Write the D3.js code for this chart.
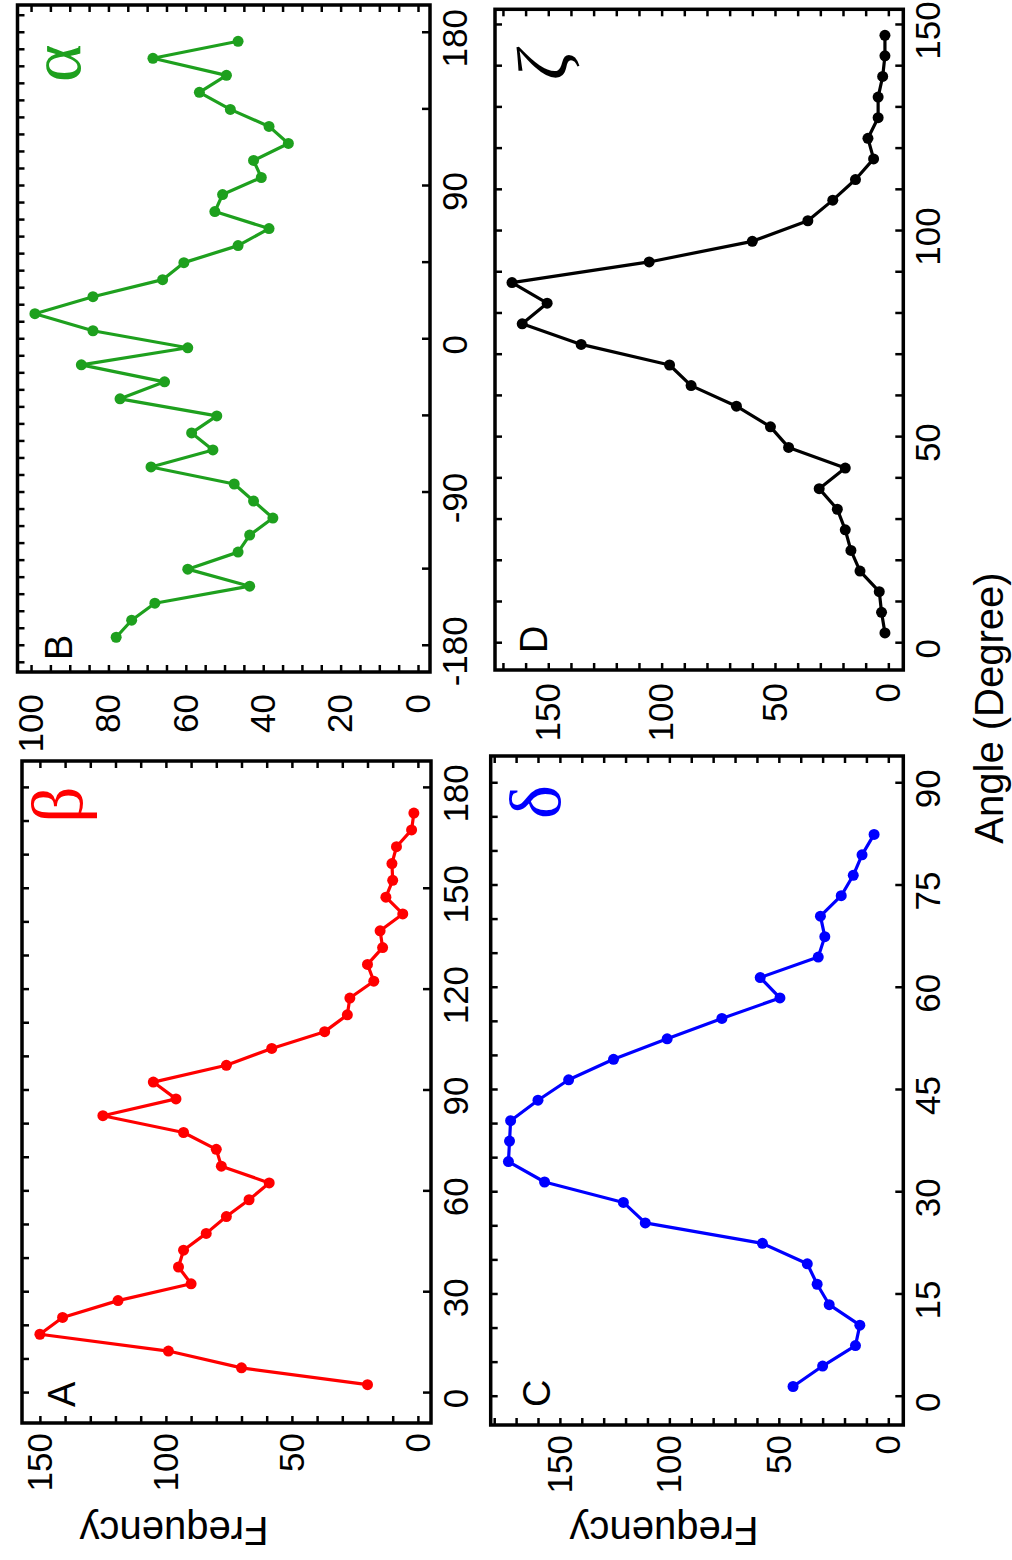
<!DOCTYPE html>
<html>
<head>
<meta charset="utf-8">
<script src="https://cdn.jsdelivr.net/npm/d3@7"></script>
<style>
  body { margin: 0; background: #fff; }
  svg { display: block; }
</style>
</head>
<body>
<div id="graph"></div>
<script>
// bin centres (degrees) and counts
const betaAngle = [2.5, 7.5, 12.5, 17.5, 22.5, 27.5, 32.5, 37.5, 42.5, 47.5, 52.5, 57.5, 62.5, 67.5, 72.5,
  77.5, 82.5, 87.5, 92.5, 97.5, 102.5, 107.5, 112.5, 117.5, 122.5, 127.5, 132.5, 137.5, 142.5, 147.5,
  152.5, 157.5, 162.5, 167.5, 172.5];
const betaFreq = [20, 70, 99, 150, 141, 119, 90, 95, 93, 84, 76, 67, 59, 78, 80,
  93, 125, 96, 105, 76, 58, 37, 28, 27, 17.5, 20, 14, 15, 6, 12.7,
  10, 10.3, 8.5, 2.5, 1.6];

const alphaAngle = [-175, -165, -155, -145, -135, -125, -115, -105, -95, -85, -75, -65, -55, -45, -35, -25, -15, -5,
  5, 15, 25, 35, 45, 55, 65, 75, 85, 95, 105, 115, 125, 135, 145, 155, 165, 175];
const alphaFreq = [78, 74, 68, 43.5, 59.5, 46.5, 43.5, 37.5, 42.5, 47.5, 69, 53, 58.5, 52, 77, 65.5, 87, 59.5,
  84, 99, 84, 66, 60.5, 46.5, 38.5, 52.5, 50.5, 40.5, 42.5, 33.5, 38.5, 48.5, 56.5, 49.5, 68.5, 46.5];

const deltaAngle = [1.5, 4.5, 7.5, 10.5, 13.5, 16.5, 19.5, 22.5, 25.5, 28.5, 31.5, 34.5, 37.5, 40.5,
  43.5, 46.5, 49.5, 52.5, 55.5, 58.5, 61.5, 64.5, 67.5, 70.5, 73.5, 76.5, 79.5, 82.5];
const deltaFreq = [43.5, 30, 15, 13, 27, 32.5, 37, 57.5, 111, 121, 157, 173.5, 173, 172.5,
  160, 146, 125.5, 101, 76, 49.5, 58.5, 32, 29, 31, 21.5, 16, 12, 6.5];

const zetaAngle = [2.5, 7.5, 12.5, 17.5, 22.5, 27.5, 32.5, 37.5, 42.5, 47.5, 52.5, 57.5, 62.5, 67.5, 72.5,
  77.5, 82.5, 87.5, 92.5, 97.5, 102.5, 107.5, 112.5, 117.5, 122.5, 127.5, 132.5, 137.5, 142.5, 147.5];
const zetaFreq = [1.5, 3, 4, 12.5, 16.5, 19, 22.5, 30.5, 19, 44, 52, 67, 87, 96.5, 135.5,
  161.5, 150.5, 166, 105.5, 60, 35.5, 24.5, 14.5, 6.5, 9, 4.5, 4.5, 2.5, 1.5, 1.5];

// tick labels
const betaXTicks = [0, 30, 60, 90, 120, 150, 180];
const betaYTicks = [0, 50, 100, 150];
const alphaXTicks = [-180, -90, 0, 90, 180];
const alphaYTicks = [0, 20, 40, 60, 80, 100];
const deltaXTicks = [0, 15, 30, 45, 60, 75, 90];
const deltaYTicks = [0, 50, 100, 150];
const zetaXTicks = [0, 50, 100, 150];
const zetaYTicks = [0, 50, 100, 150];

const panelLetters = ['A', 'B', 'C', 'D'];
const greekNames = ['\u03B2', '\u03B1', '\u03B4', '\u03B6'];
const xLabel = 'Angle (Degree)';
const yLabel = 'Frequency';

// the figure is drawn upright (1560 wide x 1012 tall) and turned a quarter turn left
let W = 1560, H = 1012;

let svg = d3.select('#graph').append('svg')
    .attr('width', 1012)
    .attr('height', 1560);
svg.append('rect').attr('width', 1012).attr('height', 1560).attr('fill', '#fff');

let root = svg.append('g')
    .attr('transform', 'translate(0,' + W + ') rotate(-90)');

let sans = '"Liberation Sans", Arial, Helvetica, sans-serif';
let serif = '"Liberation Serif", "DejaVu Serif", "Times New Roman", serif';

let panels = [
  {angle: betaAngle, freq: betaFreq, color: '#ff0000',
   xDomain: [-8.9, 188], xRange: [137, 799], yDomain: [-5.2, 157.1], yRange: [431, 22],
   xLabels: betaXTicks, xBottom: [0, 180, 30], xTop: [0, 180, 10],
   yLabels: betaYTicks, yMinor: [0, 150, 10], yPad: 10,
   letter: panelLetters[0], letterPos: [153, 75], greek: greekNames[0], greekPos: [737, 82], italic: false},
  {angle: alphaAngle, freq: alphaFreq, color: '#1ea01e',
   xDomain: [-195.4, 196.3], xRange: [888, 1555], yDomain: [-3.1, 103.5], yRange: [430, 17.5],
   xLabels: alphaXTicks, xBottom: [-180, 180, 45], xTop: [-190, 190, 10],
   yLabels: alphaYTicks, yMinor: [0, 100, 5], yPad: 22,
   letter: panelLetters[1], letterPos: [900, 72], greek: greekNames[1], greekPos: [1478, 80], italic: false},
  {angle: deltaAngle, freq: deltaFreq, color: '#0000ff',
   xDomain: [-4.15, 94.0], xRange: [135, 804], yDomain: [-6.85, 181.6], yRange: [903.3, 490.7],
   xLabels: deltaXTicks, xBottom: [0, 90, 15], xTop: [0, 90, 5],
   yLabels: deltaYTicks, yMinor: [0, 180, 10], yPad: 10,
   letter: panelLetters[2], letterPos: [153, 550], greek: greekNames[2], greekPos: [741, 560], italic: false},
  {angle: zetaAngle, freq: zetaFreq, color: '#000000',
   xDomain: [-6.5, 153.8], xRange: [890, 1550.7], yDomain: [-6.6, 173.5], yRange: [903.3, 495],
   xLabels: zetaXTicks, xBottom: [0, 150, 10], xTop: [0, 150, 10],
   yLabels: zetaYTicks, yMinor: [0, 170, 10], yPad: 13,
   letter: panelLetters[3], letterPos: [907, 547], greek: greekNames[3], greekPos: [1480, 567], italic: true}
];

function steps(r) {
  return d3.range(r[0], r[1] + r[2] / 2, r[2]);
}

function styleAxis(g) {
  g.select('.domain').remove();
  g.selectAll('line').attr('stroke', '#000').attr('stroke-width', 2.5);
  g.selectAll('text')
      .attr('font-family', sans)
      .attr('font-size', 35)
      .attr('fill', '#000');
}

panels.forEach(function(p) {
  let x = d3.scaleLinear().domain(p.xDomain).range(p.xRange);
  let y = d3.scaleLinear().domain(p.yDomain).range(p.yRange);
  let left = p.xRange[0], right = p.xRange[1];
  let top = p.yRange[1], bottom = p.yRange[0];

  let g = root.append('g');

  // bottom axis: tick marks, then labels
  g.append('g')
      .attr('transform', 'translate(0,' + bottom + ')')
      .call(d3.axisBottom(x).tickValues(steps(p.xBottom)).tickSize(-8).tickFormat(''))
      .call(styleAxis);
  g.append('g')
      .attr('transform', 'translate(0,' + bottom + ')')
      .call(d3.axisBottom(x).tickValues(p.xLabels).tickSize(0).tickPadding(12)
        .tickFormat(function(d) { return d < 0 ? '-' + Math.abs(d) : d; }))
      .call(styleAxis)
      .selectAll('text').attr('dx', -6);

  // top axis: minor ticks only
  g.append('g')
      .attr('transform', 'translate(0,' + top + ')')
      .call(d3.axisTop(x).tickValues(steps(p.xTop)).tickSize(-7).tickFormat(''))
      .call(styleAxis);

  // left axis
  g.append('g')
      .attr('transform', 'translate(' + left + ',0)')
      .call(d3.axisLeft(y).tickValues(steps(p.yMinor)).tickSize(-7).tickFormat(''))
      .call(styleAxis);
  g.append('g')
      .attr('transform', 'translate(' + left + ',0)')
      .call(d3.axisLeft(y).tickValues(p.yLabels).tickSize(0).tickPadding(p.yPad))
      .call(styleAxis);

  // right axis
  g.append('g')
      .attr('transform', 'translate(' + right + ',0)')
      .call(d3.axisRight(y).tickValues(steps(p.yMinor)).tickSize(-7).tickFormat(''))
      .call(styleAxis);

  let data = p.angle.map(function(a, i) { return {a: a, f: p.freq[i]}; });

  let line = d3.line()
      .x(function(d) { return x(d.a); })
      .y(function(d) { return y(d.f); });

  g.append('path')
      .datum(data)
      .attr('d', line)
      .attr('fill', 'none')
      .attr('stroke', p.color)
      .attr('stroke-width', 3.2)
      .attr('stroke-linejoin', 'round');

  g.selectAll('circle.pt')
      .data(data)
    .enter().append('circle')
      .attr('class', 'pt')
      .attr('cx', function(d) { return x(d.a); })
      .attr('cy', function(d) { return y(d.f); })
      .attr('r', 5.5)
      .attr('fill', p.color);

  // frame
  g.append('rect')
      .attr('x', left)
      .attr('y', top)
      .attr('width', right - left)
      .attr('height', bottom - top)
      .attr('fill', 'none')
      .attr('stroke', '#000')
      .attr('stroke-width', 3.5);

  g.append('text')
      .attr('x', p.letterPos[0])
      .attr('y', p.letterPos[1])
      .attr('font-family', sans)
      .attr('font-size', 38)
      .text(p.letter);

  g.append('text')
      .attr('x', p.greekPos[0])
      .attr('y', p.greekPos[1])
      .attr('font-family', serif)
      .attr('font-style', p.italic ? 'italic' : 'normal')
      .attr('font-size', 72)
      .attr('fill', p.color)
      .text(p.greek);
});

// axis titles
[174, 664].forEach(function(v) {
  root.append('text')
      .attr('transform', 'translate(43,' + v + ') rotate(-90)')
      .attr('text-anchor', 'middle')
      .attr('font-family', sans)
      .attr('font-size', 40)
      .text(yLabel);
});

root.append('text')
    .attr('x', 852)
    .attr('y', 1003)
    .attr('text-anchor', 'middle')
    .attr('font-family', sans)
    .attr('font-size', 40)
    .text(xLabel);
</script>
</body>
</html>
